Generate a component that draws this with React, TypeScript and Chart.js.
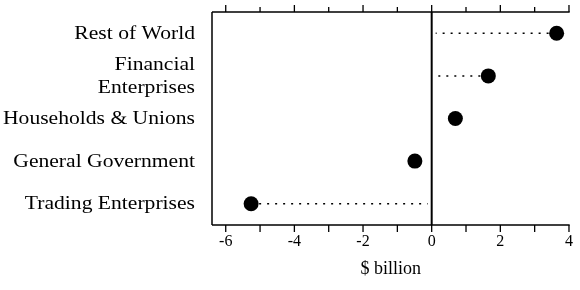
import { useEffect, useRef } from "react";
import { Chart, registerables } from "chart.js";

Chart.register(...registerables);

const categories: (string | string[])[] = [
  "Rest of World",
  ["Financial", "Enterprises"],
  "Households & Unions",
  "General Government",
  "Trading Enterprises",
];
const values = [3.64, 1.65, 0.69, -0.49, -5.26];
const xTickLabels = [-6, -4, -2, 0, 2, 4];
const xAxisTitle = "$ billion";

const SERIF = "'Liberation Serif', 'Times New Roman', serif";

const framePlugin = {
  id: "frame",
  beforeDatasetsDraw(chart: any) {
    const { ctx, chartArea } = chart;
    const xs = chart.scales.x;
    const ys = chart.scales.y;
    const { left, right, top, bottom } = chartArea;
    ctx.save();
    ctx.strokeStyle = "#000";
    ctx.lineWidth = 1.5;
    ctx.beginPath();
    ctx.moveTo(left, top);
    ctx.lineTo(left, bottom);
    ctx.moveTo(left, top);
    ctx.lineTo(right, top);
    ctx.moveTo(left, bottom);
    ctx.lineTo(right, bottom);
    ctx.stroke();
    ctx.lineWidth = 1.3;
    xs.ticks.forEach((t: any) => {
      const px = xs.getPixelForValue(t.value);
      const major = xTickLabels.includes(t.value);
      const len = major ? 7 : 5;
      ctx.beginPath();
      ctx.moveTo(px, top);
      ctx.lineTo(px, top - len);
      ctx.moveTo(px, bottom);
      ctx.lineTo(px, bottom + 7);
      ctx.stroke();
    });
    const zx = xs.getPixelForValue(0);
    ctx.lineWidth = 2;
    ctx.beginPath();
    ctx.moveTo(zx, top);
    ctx.lineTo(zx, bottom);
    ctx.stroke();
    ctx.lineWidth = 1.5;
    ctx.setLineDash([2, 6]);
    values.forEach((v, i) => {
      if (Math.abs(v) < 1) return;
      const py = ys.getPixelForValue(i);
      const pv = xs.getPixelForValue(v);
      ctx.beginPath();
      ctx.moveTo(pv, py);
      ctx.lineTo(zx + (v > 0 ? 4 : -4), py);
      ctx.stroke();
    });
    ctx.restore();
  },
  afterDraw(chart: any) {
    const { ctx, chartArea } = chart;
    const ys = chart.scales.y;
    ctx.save();
    ctx.fillStyle = "#000";
    ctx.font = `18px ${SERIF}`;
    ctx.textAlign = "right";
    ctx.textBaseline = "middle";
    const lineH = 23;
    const xRight = chartArea.left - 17;
    categories.forEach((c, i) => {
      const lines = Array.isArray(c) ? c : [c];
      const cy = ys.getPixelForValue(i);
      lines.forEach((ln, k) => {
        const yy = cy - ((lines.length - 1) * lineH) / 2 + k * lineH;
        ctx.save();
        ctx.translate(xRight, yy + 1);
        ctx.scale(1.2, 1);
        ctx.fillText(ln, 0, 0);
        ctx.restore();
      });
    });
    ctx.restore();
  },
};

export default function App() {
  const ref = useRef<HTMLCanvasElement | null>(null);
  useEffect(() => {
    if (!ref.current) return;
    const chart = new Chart(ref.current, {
      type: "line",
      data: {
        labels: categories.map((c) => (Array.isArray(c) ? c.join(" ") : c)),
        datasets: [
          {
            data: values,
            showLine: false,
            pointRadius: 7.5,
            pointHoverRadius: 7.5,
            pointBackgroundColor: "#000",
            pointBorderWidth: 0,
            borderColor: "#000",
            clip: false as any,
          },
        ],
      },
      options: {
        indexAxis: "y",
        animation: false,
        responsive: false,
        events: [],
        layout: { autoPadding: false, padding: { left: 212, right: 8, top: 12, bottom: 0 } },
        plugins: { legend: { display: false }, tooltip: { enabled: false } },
        scales: {
          x: {
            type: "linear",
            min: -6.4,
            max: 4.02,
            grid: { display: false, drawTicks: false },
            border: { display: false },
            afterFit: (s: any) => {
              s.height = 65;
            },
            ticks: {
              stepSize: 1,
              includeBounds: false,
              autoSkip: false,
              maxRotation: 0,
              padding: 7,
              color: "#000",
              font: { family: SERIF, size: 16 },
              callback: (v: any) => (xTickLabels.includes(Number(v)) ? String(v) : ""),
            },
            title: {
              display: true,
              text: xAxisTitle,
              color: "#000",
              font: { family: SERIF, size: 18 },
              padding: { top: 4, bottom: 10 },
            },
          },
          y: {
            type: "category",
            display: false,
            offset: true,
          },
        },
      },
      plugins: [framePlugin],
    });
    return () => chart.destroy();
  }, []);
  return (
    <div style={{ position: "absolute", left: 0, top: 0, width: 580, height: 290 }}>
      <canvas ref={ref} width={580} height={290} style={{ display: "block" }} />
    </div>
  );
}
